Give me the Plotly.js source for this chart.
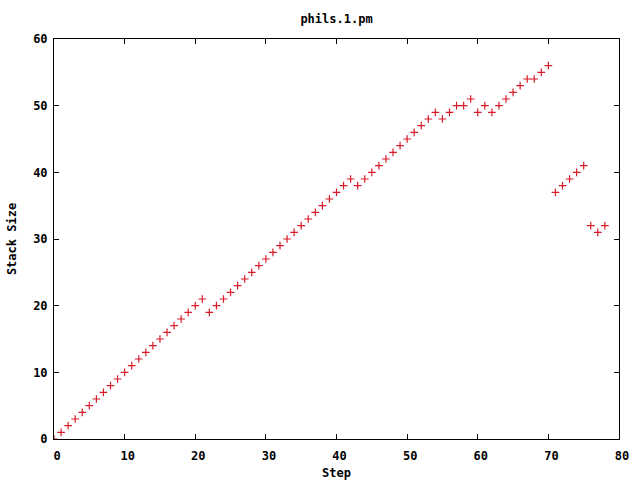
<!DOCTYPE html>
<html>
<head>
<meta charset="utf-8">
<script src="https://cdn.plot.ly/plotly-3.0.1.min.js"></script>
<style>html,body{margin:0;padding:0;background:#fff;}#chart{width:640px;height:480px;}</style>
</head>
<body>
<div id="chart"></div>
<script>
var steps = [];
for (var i = 0; i <= 78; i++) steps.push(i);
var stackSize = [
  0, 1, 2, 3, 4, 5, 6, 7, 8, 9,
  10, 11, 12, 13, 14, 15, 16, 17, 18, 19,
  20, 21, 19, 20, 21, 22, 23, 24, 25, 26,
  27, 28, 29, 30, 31, 32, 33, 34, 35, 36,
  37, 38, 39, 38, 39, 40, 41, 42, 43, 44,
  45, 46, 47, 48, 49, 48, 49, 50, 50, 51,
  49, 50, 49, 50, 51, 52, 53, 54, 54, 55,
  56, 37, 38, 39, 40, 41, 32, 31, 32
];
var titleText = "phils.1.pm";
var xTitle = "Step";
var yTitle = "Stack Size";

var fnt = {family: "DejaVu Sans Mono, Liberation Mono, monospace", size: 12, color: "#000", weight: "bold"};

var trace = {
  x: steps, y: stackSize, type: "scatter", mode: "markers",
  marker: {symbol: "cross-thin", size: 5.5, line: {color: "#d81a28", width: 1.2}, color: "#d81a28"},
  cliponaxis: true, hoverinfo: "none"
};

var axisCommon = {
  showgrid: false, zeroline: false, showline: true, linecolor: "#000", linewidth: 1,
  mirror: "ticks", ticks: "inside", ticklen: 5, tickcolor: "#000", tickwidth: 1,
  tickfont: fnt, dtick: 10, tick0: 0
};

var layout = {
  width: 640, height: 480,
  margin: {l: 54, r: 21, t: 39, b: 41, pad: 0},
  paper_bgcolor: "#fff", plot_bgcolor: "#fff",
  showlegend: false,
  font: fnt,
  title: {text: titleText, font: fnt, x: 0.5, xref: "paper", y: 1 - 19/480, yanchor: "middle"},
  xaxis: Object.assign({}, axisCommon, {range: [0, 80], ticklabelstandoff: 6, ticklabelshift: 3, title: {text: xTitle, font: fnt, standoff: 7}}),
  yaxis: Object.assign({}, axisCommon, {range: [0, 60], ticklabelstandoff: 3, title: {text: yTitle, font: fnt, standoff: 13}})
};

Plotly.newPlot("chart", [trace], layout, {displayModeBar: false, staticPlot: true});
</script>
</body>
</html>
